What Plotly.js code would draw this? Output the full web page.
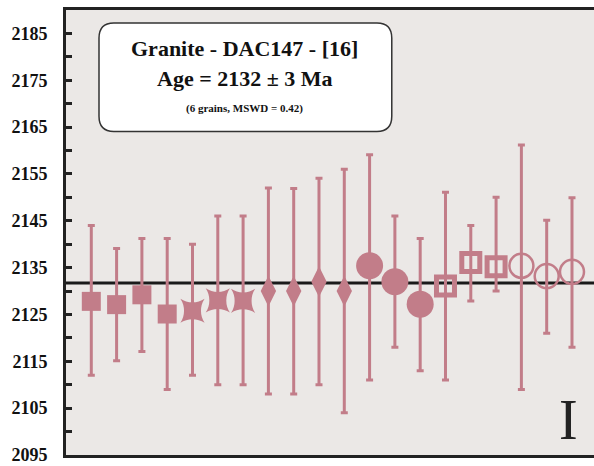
<!DOCTYPE html>
<html>
<head>
<meta charset="utf-8">
<script src="https://cdn.plot.ly/plotly-3.0.1.min.js"></script>
<style>html,body{margin:0;padding:0;background:#fff;}#chart{width:594px;height:466px;}</style>
</head>
<body>
<div id="chart"></div>
<script>
// Analysis index (grain spots)
const spot = [1,2,3,4,5,6,7,8,9,10,11,12,13,14,15,16,17,18,19,20];
// 207Pb/206Pb ages (Ma)
const age = [2127.8, 2127.1, 2129.2, 2125.1, 2125.8, 2128.0, 2127.9, 2130.0, 2130.0, 2132.0,
             2130.0, 2135.4, 2132.0, 2127.2, 2131.1, 2136.1, 2135.2, 2135.4, 2133.2, 2134.1];
// Upper / lower ends of the error bars (Ma)
const upper = [2144, 2139.1, 2141.2, 2141.2, 2140, 2146, 2146, 2152, 2151.9, 2154.1,
               2156, 2159.1, 2146, 2141.2, 2151.1, 2144, 2150, 2161.2, 2145.1, 2149.9];
const lower = [2112, 2115.1, 2117.1, 2109, 2112, 2110, 2110, 2108, 2108, 2110,
               2104, 2111, 2118, 2113, 2111, 2127.9, 2130, 2109, 2121, 2118];
// Symbol groups
const groups = [
  {from:0, to:4, symbol:'square', size:19, lw:0},
  {from:4, to:7, symbol:'star-square', size:22, lw:0},
  {from:7, to:11, symbol:'diamond-tall', size:18, lw:2.5},
  {from:11, to:14, symbol:'circle', size:27, lw:0},
  {from:14, to:17, symbol:'square-open', size:18, lw:5},
  {from:17, to:20, symbol:'circle-open', size:24, lw:2.5}
];
const weightedMean = 2131.7;
const yTickVals = [2095,2100,2105,2110,2115,2120,2125,2130,2135,2140,2145,2150,2155,2160,2165,2170,2175,2180,2185,2190];
const yTickText = yTickVals.map(v => ((v - 2095) % 10 === 0) ? String(v) : '');

const col = '#c27d89';
const traces = groups.map(g => {
  const xs = spot.slice(g.from, g.to);
  const ys = age.slice(g.from, g.to);
  const up = upper.slice(g.from, g.to).map((u, i) => u - ys[i]);
  const dn = lower.slice(g.from, g.to).map((l, i) => ys[i] - l);
  return {
    type: 'scatter', mode: 'markers', x: xs, y: ys,
    marker: {symbol: g.symbol, size: g.size, color: col,
             line: {color: col, width: g.lw}},
    error_y: {type: 'data', symmetric: false, array: up, arrayminus: dn,
              color: col, thickness: 3, width: 3.5},
    showlegend: false, hoverinfo: 'skip'
  };
});

// rounded box path in paper coords
const bx0 = 0.0625, bx1 = 0.617, by0 = 0.727, by1 = 0.971, rx = 0.028, ry = 0.034;
const boxPath = `M ${bx0+rx},${by1} L ${bx1-rx},${by1} Q ${bx1},${by1} ${bx1},${by1-ry} L ${bx1},${by0+ry} Q ${bx1},${by0} ${bx1-rx},${by0} L ${bx0+rx},${by0} Q ${bx0},${by0} ${bx0},${by0+ry} L ${bx0},${by1-ry} Q ${bx0},${by1} ${bx0+rx},${by1} Z`;

const serif = '"Liberation Serif", "Times New Roman", serif';
const layout = {
  width: 594, height: 466,
  margin: {l: 66, r: 0, t: 10, b: 11},
  paper_bgcolor: '#ffffff', plot_bgcolor: '#ebe8e6',
  xaxis: {range: [0, 20.87], showgrid: false, zeroline: false, showticklabels: false,
          ticks: '', showline: true, mirror: true, linewidth: 3, linecolor: '#222'},
  yaxis: {range: [2095, 2190], showgrid: false, zeroline: false,
          tickvals: yTickVals, ticktext: yTickText, ticks: 'inside', ticklen: 6, tickwidth: 3,
          tickcolor: '#222', showline: true, linewidth: 3, linecolor: '#222',
          ticklabeloverflow: 'allow', ticklabelstandoff: 12,
          tickfont: {family: serif, size: 18, color: '#111', weight: 'bold'}},
  shapes: [
    {type: 'line', xref: 'paper', x0: 0, x1: 1, yref: 'y', y0: weightedMean, y1: weightedMean,
     line: {color: '#1a1a1a', width: 3}, layer: 'below'},
    {type: 'path', xref: 'paper', yref: 'paper', path: boxPath, fillcolor: '#ffffff',
     line: {color: '#333', width: 1.5}, layer: 'above'}
  ],
  annotations: [
    {xref: 'paper', yref: 'paper', x: 0.339, y: 0.913, text: '<b>Granite - DAC147 - [16]</b>',
     showarrow: false, xanchor: 'center', yanchor: 'middle', font: {family: serif, size: 22, color: '#111'}},
    {xref: 'paper', yref: 'paper', x: 0.339, y: 0.846, text: '<b>Age = 2132 ± 3 Ma</b>',
     showarrow: false, xanchor: 'center', yanchor: 'middle', font: {family: serif, size: 22, color: '#111'}},
    {xref: 'paper', yref: 'paper', x: 0.339, y: 0.778, text: '<b>(6 grains, MSWD = 0.42)</b>',
     showarrow: false, xanchor: 'center', yanchor: 'middle', font: {family: serif, size: 11, color: '#111'}},
    {xref: 'paper', yref: 'paper', x: 0.951, y: 0.078, text: 'I',
     showarrow: false, xanchor: 'center', yanchor: 'middle', font: {family: serif, size: 56, color: '#222'}}
  ]
};
Plotly.newPlot('chart', traces, layout, {displayModeBar: false, staticPlot: true});
</script>
</body>
</html>
